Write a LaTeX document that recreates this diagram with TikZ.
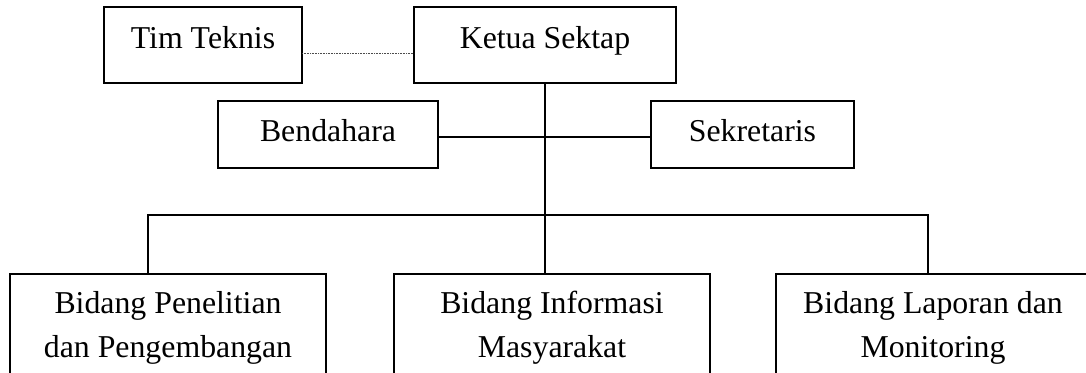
\documentclass[tikz,border=0pt]{standalone}
\usepackage{fontspec}
\setmainfont{Liberation Serif}
\begin{document}
\begin{tikzpicture}[x=1pt,y=-1pt,
  box/.style={draw,line width=1.9pt,minimum width=#1,minimum height=76pt,inner sep=0pt,outer sep=0pt,anchor=north west},
  midbox/.style={draw,line width=1.9pt,minimum width=#1,minimum height=67pt,inner sep=0pt,outer sep=0pt,anchor=north west},
  lowbox/.style={draw,line width=1.9pt,minimum width=#1,minimum height=130pt,inner sep=0pt,outer sep=0pt,anchor=north west},
  lbl/.style={anchor=base,inner sep=0pt,font=\fontsize{31.8}{44}\selectfont},
  conn/.style={line width=1.9pt},
  dotconn/.style={line width=1pt,dash pattern=on 1pt off 0.6pt,black!70}]
\useasboundingbox (0,0) rectangle (1086,372);
\clip (0,0) rectangle (1086,372);
% boxes
\node[box=262pt] (ketua) at (414,7) {};
\node[box=198pt] (tim) at (104,7) {};
\node[midbox=220pt] (bend) at (218,101) {};
\node[midbox=203pt] (sek) at (651,101) {};
\node[lowbox=316pt] (b1) at (10,274) {};
\node[lowbox=316pt] (b2) at (394,274) {};
\node[lowbox=314pt] (b3) at (776,274) {};
% labels
\node[lbl] (ttim) at ([yshift=-41pt]tim.north) {Tim Teknis};
\node[lbl] (tketua) at ([yshift=-41pt]ketua.north) {Ketua Sektap};
\node[lbl] (tbend) at ([yshift=-40pt]bend.north) {Bendahara};
\node[lbl] (tsek) at ([yshift=-40pt]sek.north) {Sekretaris};
\node[lbl] (tb1a) at ([yshift=-39pt]b1.north) {Bidang Penelitian};
\node[lbl] (tb1b) at ([yshift=-83pt]b1.north) {dan Pengembangan};
\node[lbl] (tb2a) at ([yshift=-39pt]b2.north) {Bidang Informasi};
\node[lbl] (tb2b) at ([yshift=-83pt]b2.north) {Masyarakat};
\node[lbl] (tb3a) at ([yshift=-39pt]b3.north) {Bidang Laporan dan};
\node[lbl] (tb3b) at ([yshift=-83pt]b3.north) {Monitoring};
% connectors
\coordinate (bc) at (545,215);
\coordinate (bl) at (148,215);
\coordinate (br) at (928,215);
\draw[dotconn] ([yshift=-8pt]tim.east) -- ([yshift=-8pt]ketua.west);
\draw[conn] (bc |- ketua.south) -- (bc);
\draw[conn] ([yshift=-2.5pt]bend.east) -- ([yshift=-2.5pt]sek.west);
\draw[conn] (bl |- b1.north) -- (bl) -- (br) -- (br |- b3.north);
\draw[conn] (bc) -- (bc |- b2.north);
\end{tikzpicture}
\end{document}
